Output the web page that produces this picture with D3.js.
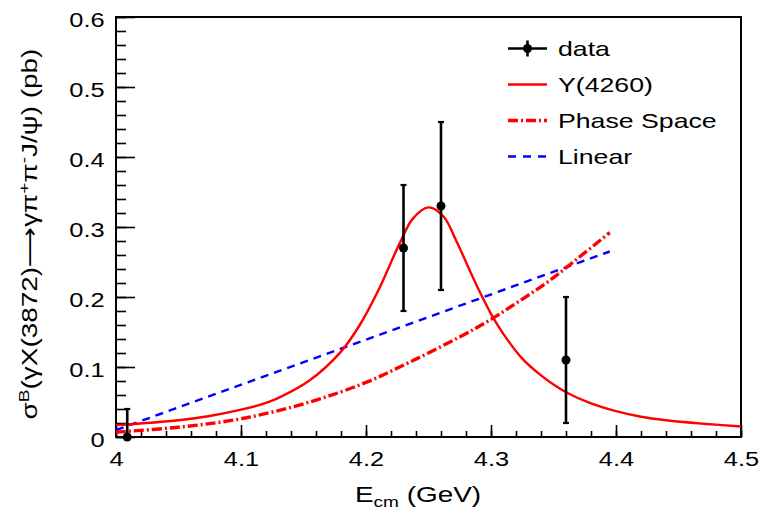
<!DOCTYPE html>
<html>
<head>
<meta charset="utf-8">
<script src="https://cdn.jsdelivr.net/npm/d3@7"></script>
<style>
  body { margin: 0; background: #fff; }
  svg text { font-family: "Liberation Sans", Arial, sans-serif; fill: #000; }
</style>
</head>
<body>
<div id="chart"></div>
<script>
// measured points
const energies = [4.009, 4.23, 4.26, 4.36];
const xsec = [0.0, 0.27, 0.33, 0.11];
const errLow = [0.04, 0.09, 0.12, 0.09];
const errHigh = [0.04, 0.09, 0.12, 0.09];

// Y(4260) fit curve
const y4260E = [4.00, 4.05, 4.075, 4.10, 4.115, 4.13, 4.155, 4.18, 4.195, 4.21, 4.227, 4.2375, 4.25, 4.262, 4.272, 4.283, 4.29, 4.30, 4.31, 4.325, 4.34, 4.35, 4.36, 4.38, 4.40, 4.42, 4.44, 4.47, 4.50];
const y4260V = [0.017, 0.024, 0.030, 0.039, 0.046, 0.056, 0.081, 0.122, 0.16, 0.21, 0.277, 0.312, 0.328, 0.315, 0.281, 0.238, 0.211, 0.176, 0.147, 0.112, 0.088, 0.075, 0.064, 0.048, 0.037, 0.029, 0.024, 0.019, 0.015];

// phase space curve
const phspE = [4.00, 4.05, 4.10, 4.155, 4.20, 4.235, 4.275, 4.30, 4.32, 4.345, 4.37, 4.395];
const phspV = [0.007, 0.014, 0.026, 0.05, 0.078, 0.107, 0.143, 0.168, 0.191, 0.221, 0.256, 0.292];

// linear
const linE = [4.00, 4.395];
const linV = [0.01, 0.265];

const xTicks = [4.0, 4.1, 4.2, 4.3, 4.4, 4.5];
const xTickLabels = ["4", "4.1", "4.2", "4.3", "4.4", "4.5"];
const yTicks = [0, 0.1, 0.2, 0.3, 0.4, 0.5, 0.6];
const yTickLabels = ["0", "0.1", "0.2", "0.3", "0.4", "0.5", "0.6"];
const legendLabels = ["data", "Y(4260)", "Phase Space", "Linear"];

const width = 773, height = 513;
const stretch = "scale(1.27,1)"; // the original font is wide

const svg = d3.select("#chart").append("svg")
    .attr("width", width)
    .attr("height", height);

const x = d3.scaleLinear().domain([4, 4.5]).range([116, 741]);
const y = d3.scaleLinear().domain([0, 0.6]).range([437, 17]);

// minor ticks
svg.append("g")
    .attr("transform", `translate(0,${y(0)})`)
    .call(d3.axisBottom(x).ticks(25).tickSize(-6).tickSizeOuter(0).tickFormat(""))
    .call(g => g.select(".domain").remove())
    .call(g => g.selectAll("line").attr("stroke-width", 1.6));
svg.append("g")
    .attr("transform", `translate(${x(4)},0)`)
    .call(d3.axisLeft(y).ticks(30).tickSize(-10).tickSizeOuter(0).tickFormat(""))
    .call(g => g.select(".domain").remove())
    .call(g => g.selectAll("line").attr("stroke-width", 1.6));

// major ticks + labels
const xAxis = svg.append("g")
    .attr("transform", `translate(0,${y(0)})`)
    .call(d3.axisBottom(x).tickValues(xTicks).tickSize(-12).tickSizeOuter(0)
        .tickPadding(15).tickFormat((d, i) => xTickLabels[i]));
xAxis.selectAll("line").attr("stroke-width", 1.6);
xAxis.select(".domain").remove();
xAxis.selectAll("text").attr("font-size", 20).attr("font-family", null).attr("transform", stretch);

const yAxis = svg.append("g")
    .attr("transform", `translate(${x(4)},0)`)
    .call(d3.axisLeft(y).tickValues(yTicks).tickSize(-19).tickSizeOuter(0)
        .tickPadding(9).tickFormat((d, i) => yTickLabels[i]));
yAxis.selectAll("line").attr("stroke-width", 1.6);
yAxis.select(".domain").remove();
yAxis.selectAll("text").attr("font-size", 20).attr("font-family", null)
    .attr("dy", "0.47em").attr("transform", stretch);

// frame
svg.append("rect")
    .attr("x", x(4)).attr("y", y(0.6))
    .attr("width", x(4.5) - x(4)).attr("height", y(0) - y(0.6))
    .attr("fill", "none").attr("stroke", "#000").attr("stroke-width", 2);

// curves
const line = d3.line()
    .x(d => x(d[0]))
    .y(d => y(d[1]))
    .curve(d3.curveCatmullRom.alpha(0.5));

svg.append("path")
    .datum(d3.zip(linE, linV))
    .attr("d", line)
    .attr("fill", "none").attr("stroke", "#0000ff")
    .attr("stroke-width", 2.4).attr("stroke-dasharray", "8,6");

svg.append("path")
    .datum(d3.zip(phspE, phspV))
    .attr("d", line)
    .attr("fill", "none").attr("stroke", "#ff0000")
    .attr("stroke-width", 3.4).attr("stroke-dasharray", "10,3,2,3");

svg.append("path")
    .datum(d3.zip(y4260E, y4260V))
    .attr("d", line)
    .attr("fill", "none").attr("stroke", "#ff0000")
    .attr("stroke-width", 2.4);

// data with error bars
const pts = energies.map((e, i) => ({ e, v: xsec[i], lo: xsec[i] - errLow[i], hi: xsec[i] + errHigh[i] }));
const pg = svg.append("g");
pts.forEach(p => {
    const lo = Math.max(0, p.lo);
    pg.append("line")
        .attr("x1", x(p.e)).attr("x2", x(p.e))
        .attr("y1", y(lo)).attr("y2", y(p.hi))
        .attr("stroke", "#000").attr("stroke-width", 2.6);
    pg.append("line")
        .attr("x1", x(p.e) - 3).attr("x2", x(p.e) + 3)
        .attr("y1", y(p.hi)).attr("y2", y(p.hi))
        .attr("stroke", "#000").attr("stroke-width", 2.2);
    if (p.lo >= 0) {
        pg.append("line")
            .attr("x1", x(p.e) - 3).attr("x2", x(p.e) + 3)
            .attr("y1", y(p.lo)).attr("y2", y(p.lo))
            .attr("stroke", "#000").attr("stroke-width", 2.2);
    }
    pg.append("circle")
        .attr("cx", x(p.e)).attr("cy", y(p.v)).attr("r", 4.5)
        .attr("fill", "#000");
});

// legend
const lx0 = 508, lx1 = 547, ly0 = 48.5, lstep = 36;
const leg = svg.append("g");
legendLabels.forEach((lab, i) => {
    const ly = ly0 + i * lstep;
    const g = leg.append("g");
    if (i === 0) {
        g.append("line").attr("x1", lx0).attr("x2", lx1).attr("y1", ly).attr("y2", ly)
            .attr("stroke", "#000").attr("stroke-width", 2.6);
        g.append("line").attr("x1", (lx0 + lx1) / 2).attr("x2", (lx0 + lx1) / 2)
            .attr("y1", ly - 8).attr("y2", ly + 8)
            .attr("stroke", "#000").attr("stroke-width", 2.6);
        g.append("circle").attr("cx", (lx0 + lx1) / 2).attr("cy", ly).attr("r", 4.5).attr("fill", "#000");
    } else if (i === 1) {
        g.append("line").attr("x1", lx0).attr("x2", lx1).attr("y1", ly).attr("y2", ly)
            .attr("stroke", "#ff0000").attr("stroke-width", 2.4);
    } else if (i === 2) {
        g.append("line").attr("x1", lx0).attr("x2", lx1).attr("y1", ly).attr("y2", ly)
            .attr("stroke", "#ff0000").attr("stroke-width", 3.4).attr("stroke-dasharray", "10,3,2,3");
    } else {
        g.append("line").attr("x1", lx0).attr("x2", lx1).attr("y1", ly).attr("y2", ly)
            .attr("stroke", "#0000ff").attr("stroke-width", 2.4).attr("stroke-dasharray", "8,7");
    }
    g.append("text")
        .attr("transform", `translate(558,${ly + 7.5}) ${stretch}`)
        .attr("font-size", 21)
        .text(lab);
});

// axis titles
const xt = svg.append("text")
    .attr("transform", `translate(418,502) ${stretch}`)
    .attr("text-anchor", "middle")
    .attr("font-size", 22);
xt.append("tspan").text("E");
xt.append("tspan").attr("font-size", 15).attr("dy", 5).text("cm");
xt.append("tspan").attr("dy", -5).text(" (GeV)");

const yt = svg.append("text")
    .attr("transform", `translate(37,234) rotate(-90) ${stretch}`)
    .attr("text-anchor", "middle")
    .attr("font-size", 22);
yt.append("tspan").text("σ");
yt.append("tspan").attr("font-size", 15).attr("dy", -8).text("B");
yt.append("tspan").attr("dy", 8).text("(γX(3872)");
yt.append("tspan").attr("font-family", "DejaVu Sans").text("⟶");
yt.append("tspan").text("γπ");
yt.append("tspan").attr("font-size", 15).attr("dy", -8).text("+");
yt.append("tspan").attr("dy", 8).text("π");
yt.append("tspan").attr("font-size", 15).attr("dy", -8).text("-");
yt.append("tspan").attr("dy", 8).text("J/ψ) (pb)");
</script>
</body>
</html>
